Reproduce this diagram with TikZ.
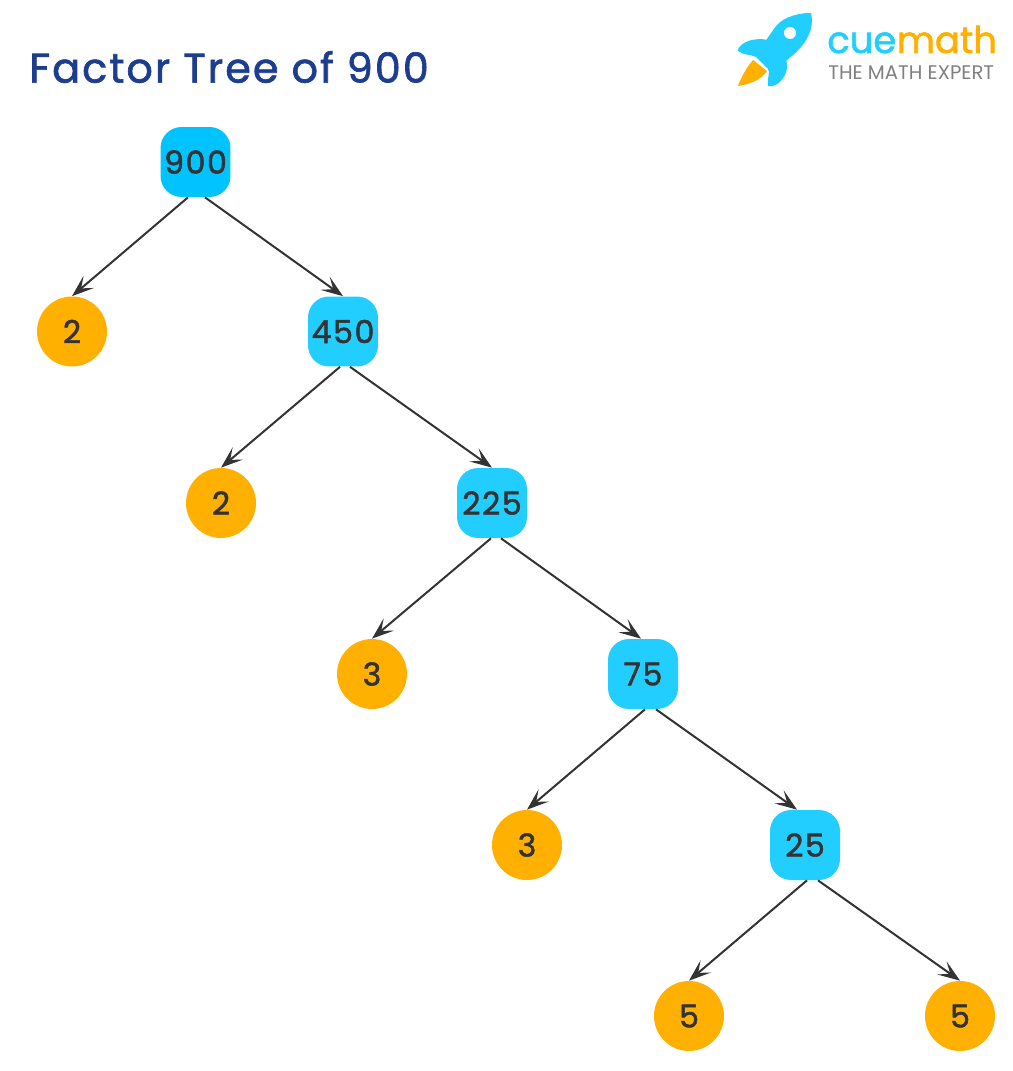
\documentclass[tikz,border=0pt]{standalone}
\usepackage{fontspec}
\setmainfont{Poppins}
\newfontfamily\spacedfont[LetterSpace=5,FakeBold=1.6]{Poppins}
\newfontfamily\heavyfont[FakeBold=1.6]{Poppins}
\usetikzlibrary{arrows.meta}
\definecolor{boxblue}{HTML}{22CEFF}
\definecolor{rootblue}{HTML}{00C3FF}
\definecolor{primeorange}{HTML}{FFB000}
\definecolor{titleblue}{HTML}{1D3E8F}
\definecolor{linegray}{HTML}{333333}
\tikzset{
	numbox/.style={fill=boxblue, rounded corners=0.42cm, minimum size=1.4cm, inner sep=0pt, text=linegray, font=\spacedfont\fontsize{18}{18}\selectfont},
	primecircle/.style={circle, fill=primeorange, minimum size=1.4cm, inner sep=0pt, text=linegray, font=\heavyfont\fontsize{18}{18}\selectfont},
	factorline/.style={-{Stealth[length=0.44cm, width=0.32cm, inset=0.2cm]}, color=linegray, line width=0.04cm}
}
\begin{document}
\begin{tikzpicture}[x=0.02cm, y=-0.02cm]
		\useasboundingbox (0,0) rectangle (1012,1071);
		\node[anchor=west, inner sep=0pt, text=titleblue, font=\spacedfont\fontsize{23.5}{23}\selectfont] (title) at (29,67) {Factor Tree of 900};
		% logo
		\filldraw[boxblue, line width=0.05cm, line join=round] (810,14) .. controls (795,15) and (781,19) .. (774,31) -- (767,41) .. controls (755,39) and (743,42) .. (739,50) .. controls (743,54) and (751,53) .. (757,56) -- (769,68) .. controls (772,72) and (768,80) .. (769,85) .. controls (778,86) and (789,73) .. (785,60) .. controls (798,50) and (814,35) .. (810,14) -- cycle;
		\fill[white] (790,33) circle (6);
		\fill[primeorange] (753,60) .. controls (746,68) and (741,78) .. (738,86) .. controls (750,84) and (761,80) .. (767,71) -- cycle;
		\node[anchor=base west, inner sep=0pt, text=boxblue, font=\heavyfont\fontsize{21}{21}\selectfont] (cue) at (827,53) {cue};
		\node[anchor=base west, inner sep=0pt, text=primeorange, font=\heavyfont\fontsize{21}{21}\selectfont] (math) at (cue.base east) {math};
		\node[anchor=base west, inner sep=0pt, text=gray, font=\fontsize{11.2}{11}\selectfont] (expert) at (828,80) {THE MATH EXPERT};
		% factors
		\node[numbox, fill=rootblue] (n900) at (195.5,162) {900};
		\node[primecircle] (p2a) at (72,331.5) {2};
		\node[numbox] (n450) at (343,331.5) {450};
		\node[primecircle] (p2b) at (221,503) {2};
		\node[numbox] (n225) at (492,503) {225};
		\node[primecircle] (p3a) at (372,674) {3};
		\node[numbox] (n75) at (643,674) {75};
		\node[primecircle] (p3b) at (527,845) {3};
		\node[numbox] (n25) at (805,845) {25};
		\node[primecircle] (p5a) at (689,1016) {5};
		\node[primecircle] (p5b) at (960,1016) {5};
		\draw[factorline] ([xshift=-0.15cm]n900.south) -- (p2a.north);
		\draw[factorline] ([xshift=0.19cm]n900.south) -- (n450.north);
		\draw[factorline] ([xshift=-0.06cm]n450.south) -- (p2b.north);
		\draw[factorline] ([xshift=0.14cm]n450.south) -- (n225.north);
		\draw[factorline] ([xshift=-0.02cm]n225.south) -- (p3a.north);
		\draw[factorline] ([xshift=0.18cm]n225.south) -- ([xshift=-0.04cm]n75.north);
		\draw[factorline] ([xshift=0.04cm]n75.south) -- (p3b.north);
		\draw[factorline] ([xshift=0.26cm]n75.south) -- ([xshift=-0.16cm]n25.north);
		\draw[factorline] ([xshift=0.04cm]n25.south) -- (p5a.north);
		\draw[factorline] ([xshift=0.26cm]n25.south) -- (p5b.north);
\end{tikzpicture}
\end{document}
